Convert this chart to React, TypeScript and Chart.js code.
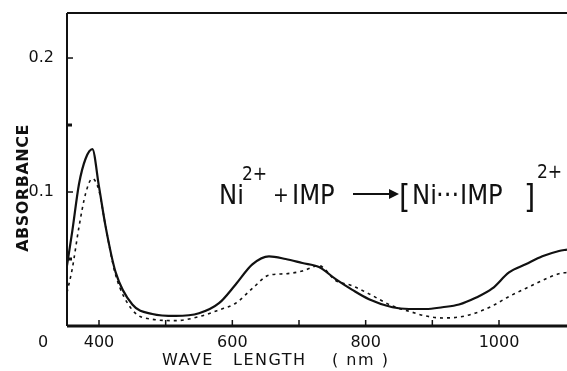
import React, { useEffect, useRef } from "react";
import { Chart, registerables } from "chart.js";

Chart.register(...registerables);

// ---- data ----
const wavelengths = [352, 360, 370, 380, 390, 400, 410, 425, 450, 480, 515, 550, 580, 605, 630, 655, 680, 705, 730, 755, 780, 805, 840, 865, 890, 915, 940, 965, 990, 1015, 1040, 1065, 1090, 1102];
const solidAbs = [0.045, 0.071, 0.106, 0.125, 0.132, 0.104, 0.074, 0.040, 0.016, 0.009, 0.0075, 0.0095, 0.017, 0.031, 0.046, 0.052, 0.050, 0.047, 0.044, 0.035, 0.027, 0.020, 0.014, 0.0127, 0.0127, 0.014, 0.016, 0.021, 0.028, 0.040, 0.046, 0.052, 0.056, 0.057];
const dashedAbs = [0.025, 0.043, 0.074, 0.099, 0.110, 0.101, 0.074, 0.038, 0.012, 0.005, 0.004, 0.007, 0.012, 0.017, 0.028, 0.038, 0.039, 0.041, 0.045, 0.034, 0.030, 0.024, 0.015, 0.011, 0.0075, 0.006, 0.0067, 0.0097, 0.015, 0.022, 0.028, 0.034, 0.039, 0.040];

const xTickLabels = [400, 600, 800, 1000];
const xTickMarks = [400, 500, 600, 700, 800, 900, 1000];
const yTickLabels = [0, 0.1, 0.2];
const yMinorTicks = [0.05, 0.15];
const yTitle = "ABSORBANCE";
const xTitleWords = ["WAVE", "LENGTH", "( nm )"];

const FONT = '"DejaVu Sans", sans-serif';
const COND = '"DejaVu Sans Condensed", "DejaVu Sans", sans-serif';

const framePlugin = {
  id: "frame",
  afterDatasetsDraw(chart: any) {
    const { ctx, chartArea: a, scales } = chart;
    const x = scales.x;
    const y = scales.y;
    ctx.save();
    ctx.strokeStyle = "#111";
    ctx.fillStyle = "#111";
    const line = (x1: number, y1: number, x2: number, y2: number) => {
      ctx.beginPath();
      ctx.moveTo(x1, y1);
      ctx.lineTo(x2, y2);
      ctx.stroke();
    };
    // frame
    ctx.lineWidth = 2;
    line(a.left, a.top, a.left, a.bottom);
    line(a.left, a.top, a.right, a.top);
    ctx.lineWidth = 3;
    line(a.left, a.bottom, a.right, a.bottom);
    // y ticks (inward)
    ctx.lineWidth = 1.5;
    yTickLabels.forEach((v) => {
      if (v === 0) return;
      const py = y.getPixelForValue(v);
      line(a.left, py, a.left + 6, py);
    });
    ctx.lineWidth = 3;
    yMinorTicks.forEach((v) => {
      const py = y.getPixelForValue(v);
      line(a.left, py, a.left + 5, py);
    });
    // x ticks (inward)
    ctx.lineWidth = 1.5;
    xTickMarks.forEach((v) => {
      const px = x.getPixelForValue(v);
      line(px, a.bottom, px, a.bottom - 6);
    });
    // tick labels
    ctx.font = `16px ${FONT}`;
    ctx.textBaseline = "alphabetic";
    const labelBase = a.bottom + 21;
    ctx.textAlign = "center";
    xTickLabels.forEach((v) => {
      ctx.fillText(String(v), x.getPixelForValue(v), labelBase);
    });
    ctx.textAlign = "right";
    yTickLabels.forEach((v) => {
      if (v === 0) {
        ctx.textAlign = "center";
        ctx.fillText("0", a.left - 24, labelBase);
        ctx.textAlign = "right";
        return;
      }
      const py = y.getPixelForValue(v);
      ctx.textBaseline = "middle";
      ctx.fillText(v.toFixed(1), a.left - 13, py);
      ctx.textBaseline = "alphabetic";
    });
    // y title
    ctx.save();
    ctx.translate(a.left - 43, 188);
    ctx.rotate(-Math.PI / 2);
    ctx.font = `bold 16px ${FONT}`;
    (ctx as any).letterSpacing = "0.5px";
    ctx.textAlign = "center";
    ctx.textBaseline = "middle";
    ctx.fillText(yTitle, 0, 0);
    ctx.restore();
    // x title
    ctx.font = `16px ${FONT}`;
    (ctx as any).letterSpacing = "1.5px";
    ctx.textAlign = "left";
    const titleBase = a.bottom + 39;
    ctx.fillText(xTitleWords[0], 162, titleBase);
    ctx.fillText(xTitleWords[1], 233, titleBase);
    ctx.fillText(xTitleWords[2], 332, titleBase);
    (ctx as any).letterSpacing = "0px";

    // annotation: Ni2+ + IMP --> [Ni...IMP]2+
    const main = `27px ${COND}`;
    const sup = `19px ${COND}`;
    const plus = `21px ${COND}`;
    const brk = `32px ${COND}`;
    const base = 204;
    ctx.textAlign = "left";
    const put = (t: string, f: string, px: number, py: number) => {
      ctx.font = f;
      ctx.fillText(t, px, py);
    };
    put("Ni", main, 219, base);
    put("2+", sup, 242, base - 24);
    put("+", plus, 273, base - 2);
    put("IMP", main, 292, base);
    // arrow
    ctx.lineWidth = 2;
    line(353, 194, 393, 194);
    ctx.beginPath();
    ctx.moveTo(399, 194);
    ctx.lineTo(389, 189);
    ctx.lineTo(389, 199);
    ctx.closePath();
    ctx.fill();
    put("[", brk, 399, base + 3);
    put("Ni", main, 412, base);
    put("\u00B7\u00B7\u00B7", main, 436, base);
    put("IMP", main, 460, base);
    put("]", brk, 524, base + 3);
    put("2+", sup, 537, base - 26);
    ctx.restore();
  },
};

export default function App() {
  const ref = useRef<HTMLCanvasElement>(null);
  useEffect(() => {
    if (!ref.current) return;
    const chart = new Chart(ref.current, {
      type: "line",
      data: {
        datasets: [
          {
            label: "Ni2+ + IMP",
            data: wavelengths.map((w, i) => ({ x: w, y: solidAbs[i] })),
            borderColor: "#111",
            borderWidth: 2.2,
            pointRadius: 0,
            cubicInterpolationMode: "monotone",
            fill: false,
          },
          {
            label: "IMP",
            data: wavelengths.map((w, i) => ({ x: w, y: dashedAbs[i] })),
            borderColor: "#111",
            borderWidth: 1.6,
            borderDash: [3, 4],
            pointRadius: 0,
            cubicInterpolationMode: "monotone",
            fill: false,
          },
        ],
      },
      options: {
        animation: false,
        responsive: false,
        devicePixelRatio: 1,
        layout: { padding: { left: 67, right: 0, top: 13, bottom: 45 } },
        plugins: { legend: { display: false }, tooltip: { enabled: false } },
        scales: {
          x: { type: "linear", min: 352, max: 1102, display: false },
          y: { type: "linear", min: 0, max: 0.2336, display: false },
        },
      },
      plugins: [framePlugin],
    });
    return () => chart.destroy();
  }, []);
  return (
    <div style={{ position: "fixed", left: 0, top: 0, width: 567, height: 371, background: "#fff" }}>
      <canvas ref={ref} width={567} height={371} />
    </div>
  );
}
